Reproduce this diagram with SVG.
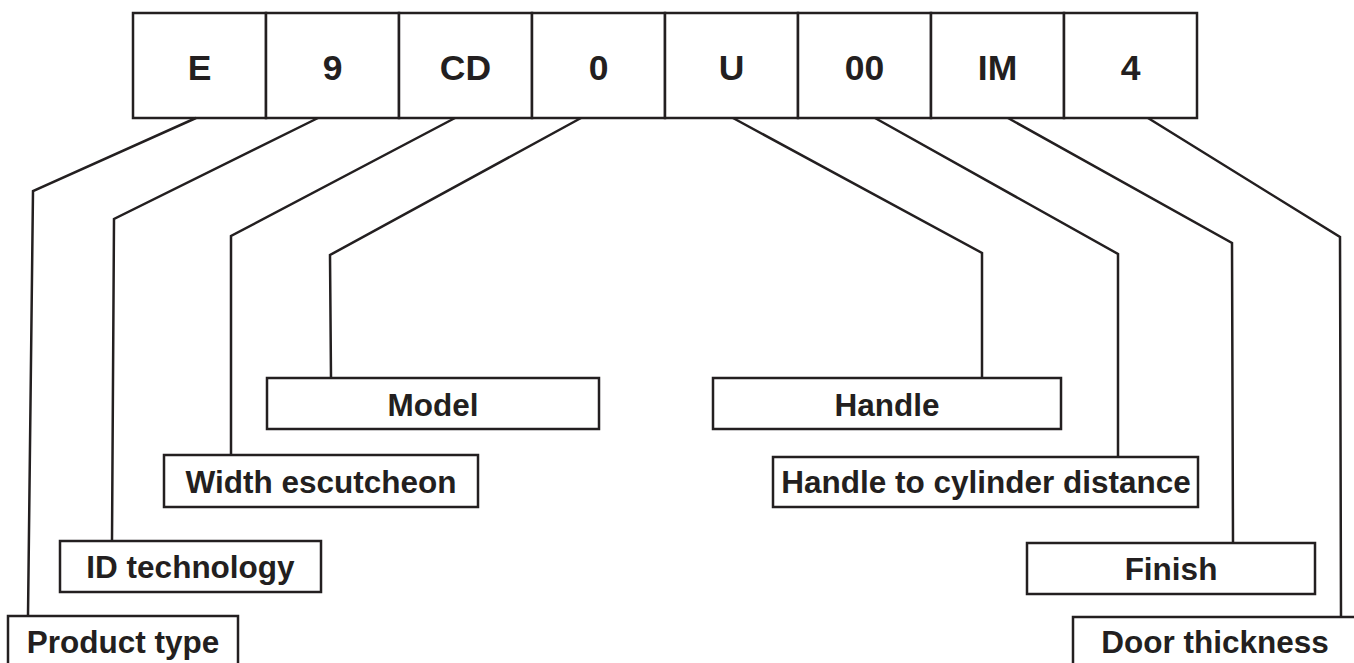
<svg xmlns="http://www.w3.org/2000/svg" width="1354" height="663" viewBox="0 0 1354 663">
<style>
.bx{fill:#fff;stroke:#231f20;stroke-width:2.5}
.ln{fill:none;stroke:#231f20;stroke-width:2.5;stroke-linejoin:miter}
.code{font-family:"Liberation Sans",Arial,sans-serif;font-weight:bold;font-size:35.5px;fill:#231f20;text-anchor:middle}
.lbl{font-family:"Liberation Sans",Arial,sans-serif;font-weight:bold;font-size:31.5px;fill:#231f20;text-anchor:middle}
</style>
<rect width="1354" height="663" fill="#fff"/>
<g id="code">
<g id="c-E"><rect class="bx" x="133" y="13" width="133" height="105"/><text class="code" x="199.5" y="80">E</text></g>
<g id="c-9"><rect class="bx" x="266" y="13" width="133" height="105"/><text class="code" x="332.5" y="80">9</text></g>
<g id="c-CD"><rect class="bx" x="399" y="13" width="133" height="105"/><text class="code" x="465.5" y="80">CD</text></g>
<g id="c-0"><rect class="bx" x="532" y="13" width="133" height="105"/><text class="code" x="598.5" y="80">0</text></g>
<g id="c-U"><rect class="bx" x="665" y="13" width="133" height="105"/><text class="code" x="731.5" y="80">U</text></g>
<g id="c-00"><rect class="bx" x="798" y="13" width="133" height="105"/><text class="code" x="864.5" y="80">00</text></g>
<g id="c-IM"><rect class="bx" x="931" y="13" width="133" height="105"/><text class="code" x="997.5" y="80">IM</text></g>
<g id="c-4"><rect class="bx" x="1064" y="13" width="133" height="105"/><text class="code" x="1130.5" y="80">4</text></g>
</g>
<g id="connectors">
<polyline class="ln" points="196,118 33,191 28,616"/>
<polyline class="ln" points="318,118 114,219 112,541"/>
<polyline class="ln" points="455,118 231,236 231,455"/>
<polyline class="ln" points="581,118 330,255 331,378"/>
<polyline class="ln" points="733,118 982,253 982,378"/>
<polyline class="ln" points="875,118 1118,254 1118,457"/>
<polyline class="ln" points="1008,118 1232,243 1233,543"/>
<polyline class="ln" points="1148,118 1340,237 1341,617"/>
</g>
<g id="n-model"><rect class="bx" x="267" y="378" width="332" height="51"/><text class="lbl" x="433" y="416">Model</text></g>
<g id="n-handle"><rect class="bx" x="713" y="378" width="348" height="51"/><text class="lbl" x="887" y="416">Handle</text></g>
<g id="n-width"><rect class="bx" x="164" y="455" width="314" height="52"/><text class="lbl" x="321" y="493">Width escutcheon</text></g>
<g id="n-htc"><rect class="bx" x="773" y="457" width="425" height="50"/><text class="lbl" x="986" y="493">Handle to cylinder distance</text></g>
<g id="n-id"><rect class="bx" x="60" y="541" width="261" height="51"/><text class="lbl" x="190.5" y="578">ID technology</text></g>
<g id="n-finish"><rect class="bx" x="1027" y="543" width="288" height="51"/><text class="lbl" x="1171" y="580">Finish</text></g>
<g id="n-product"><rect class="bx" x="8" y="616" width="230" height="60"/><text class="lbl" x="123" y="653">Product type</text></g>
<g id="n-door"><rect class="bx" x="1073" y="617" width="290" height="60"/><text class="lbl" x="1215" y="653">Door thickness</text></g>
</svg>
